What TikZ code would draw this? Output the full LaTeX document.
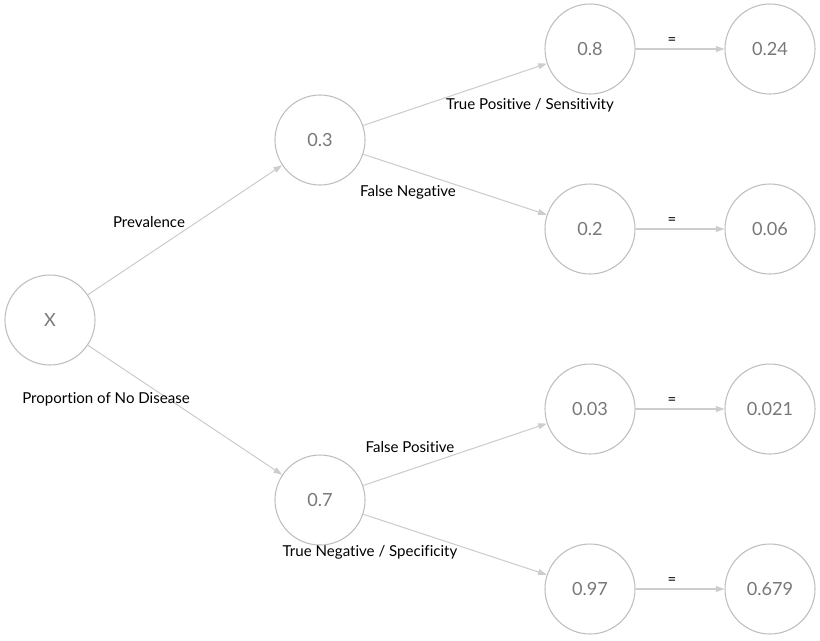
\documentclass[tikz,border=0pt]{standalone}
\usepackage{fontspec}
\setmainfont{Lato}[Ligatures=NoCommon]
\usetikzlibrary{arrows.meta}
\definecolor{ringgray}{RGB}{190,190,190}
\definecolor{numgray}{RGB}{120,120,120}
\definecolor{edgegray}{RGB}{205,205,205}

\begin{document}
\begin{tikzpicture}[x=0.75pt, y=-0.75pt,
    prob/.style={circle, draw=ringgray, line width=0.8pt, minimum size=67.5pt, inner sep=0pt, text=numgray, font=\fontsize{13.6}{15}\selectfont},
    branch/.style={draw=edgegray, line width=0.8pt, -{Triangle[length=6.5pt, width=4.5pt]}},
    lbl/.style={font=\fontsize{11.3}{13}\selectfont, text=black}]
    \useasboundingbox (0,0) rectangle (820,640);

    % Root and first split
    \node[prob] (x) at (50,320) {X};
    \node[prob] (p3) at (320,140) {0.3};
    \node[prob] (p7) at (320,500) {0.7};

    % Test results
    \node[prob] (p8) at (590,49) {0.8};
    \node[prob] (p2) at (590,229) {0.2};
    \node[prob] (p03) at (590,409) {0.03};
    \node[prob] (p97) at (590,589) {0.97};

    % Joint probabilities
    \node[prob] (r24) at (770,49) {0.24};
    \node[prob] (r06) at (770,229) {0.06};
    \node[prob] (r021) at (770,409) {0.021};
    \node[prob] (r679) at (770,589) {0.679};

    \draw[branch] (x) -- (p3);
    \draw[branch] (x) -- (p7);
    \draw[branch] (p3) -- (p8);
    \draw[branch] (p3) -- (p2);
    \draw[branch] (p7) -- (p03);
    \draw[branch] (p7) -- (p97);
    \draw[branch] (p8) -- (r24);
    \draw[branch] (p2) -- (r06);
    \draw[branch] (p03) -- (r021);
    \draw[branch] (p97) -- (r679);

    % Edge labels
    \node[lbl] (lprev) at (149,222) {Prevalence};
    \node[lbl] (lnodis) at (106,399) {Proportion of No Disease};
    \node[lbl] (ltp) at (530,105) {True Positive / Sensitivity};
    \node[lbl] (lfn) at (408,192) {False Negative};
    \node[lbl] (lfp) at (410,447) {False Positive};
    \node[lbl] (ltn) at (370,552) {True Negative / Specificity};
    \node[lbl] (eqa) at (672,41) {=};
    \node[lbl] (eqb) at (672,221) {=};
    \node[lbl] (eqc) at (672,401) {=};
    \node[lbl] (eqd) at (672,581) {=};
\end{tikzpicture}
\end{document}
